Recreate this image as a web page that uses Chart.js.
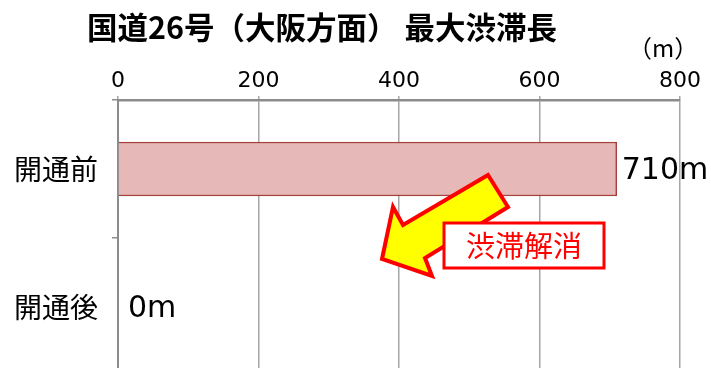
<!DOCTYPE html>
<html>
<head>
<meta charset="utf-8">
<script src="https://cdn.jsdelivr.net/npm/chart.js@4.4.0/dist/chart.umd.min.js"></script>
<style>
html,body{margin:0;padding:0;background:#fff;overflow:hidden;width:711px;height:368px}
canvas{display:block}
</style>
</head>
<body>
<canvas id="c" width="711" height="376"></canvas>
<script>
const categories=["開通前","開通後"]
const values=[710,0]
const valueLabels=["710m","0m"]
const xTicks=[0,200,400,600,800]

const JP='"Noto Sans CJK JP","Noto Sans",sans-serif'
const NUM='"DejaVu Sans","Noto Sans CJK JP",sans-serif'

// title, unit, data labels and the arrow callout
const decor={
id:"decor",
afterDatasetsDraw(chart){
const ctx=chart.ctx
const x=chart.scales.x
const y=chart.scales.y
ctx.save()
ctx.fillStyle="#000"
ctx.textBaseline="middle"
ctx.textAlign="left"
ctx.font="bold 30.5px "+JP
ctx.fillText("国道26号（大阪方面） 最大渋滞長",87,27)
ctx.font="24px "+JP
ctx.fillText("（m）",628,48)

// value labels
ctx.font="30px "+NUM
values.forEach((v,i)=>{
ctx.fillText(valueLabels[i],x.getPixelForValue(v)+(v?5:10),y.getPixelForValue(i)+2)
})

// arrow
const pts=[[488,175],[508,207],[425,258],[432,276],[382,259],[393,207],[403,225]]
ctx.beginPath()
pts.forEach((p,i)=>i?ctx.lineTo(p[0],p[1]):ctx.moveTo(p[0],p[1]))
ctx.closePath()
ctx.fillStyle="#ffff00"
ctx.fill()
ctx.lineWidth=4
ctx.lineJoin="miter"
ctx.strokeStyle="#ff0000"
ctx.stroke()

// callout box
ctx.fillStyle="#fff"
ctx.fillRect(444,223,160,45)
ctx.lineWidth=3
ctx.strokeRect(444,223,160,45)
ctx.fillStyle="#ff0000"
ctx.font="29px "+JP
ctx.textAlign="center"
ctx.fillText("渋滞解消",524,246)
ctx.restore()
}
}

new Chart(document.getElementById("c"),{
type:"bar",
data:{
labels:categories,
datasets:[{
data:values,
backgroundColor:"#e6b8b7",
borderColor:"#a5403d",
borderWidth:1.5,
barThickness:54
}]
},
options:{
indexAxis:"y",
responsive:false,
animation:false,
layout:{padding:{left:0,right:31,top:0,bottom:0}},
plugins:{legend:{display:false},tooltip:{enabled:false},title:{display:false}},
scales:{
x:{
position:"top",
min:0,
max:800,
afterBuildTicks(s){s.ticks=xTicks.map(v=>({value:v}))},
afterFit(s){s.height=100},
ticks:{color:"#000",padding:2,font:{family:NUM,size:22}},
grid:{color:"#a6a6a6",lineWidth:1.5,tickLength:4},
border:{color:"#8c8c8c",width:2.5}
},
y:{
afterFit(s){s.width=118;s.paddingTop=0;s.paddingBottom=0},
ticks:{color:"#000",padding:14,font:{family:JP,size:28}},
grid:{offset:true,drawOnChartArea:false,color:"#8c8c8c",lineWidth:1.5,tickLength:6},
border:{color:"#8c8c8c",width:2}
}
}
},
plugins:[decor]
})
</script>
</body>
</html>
